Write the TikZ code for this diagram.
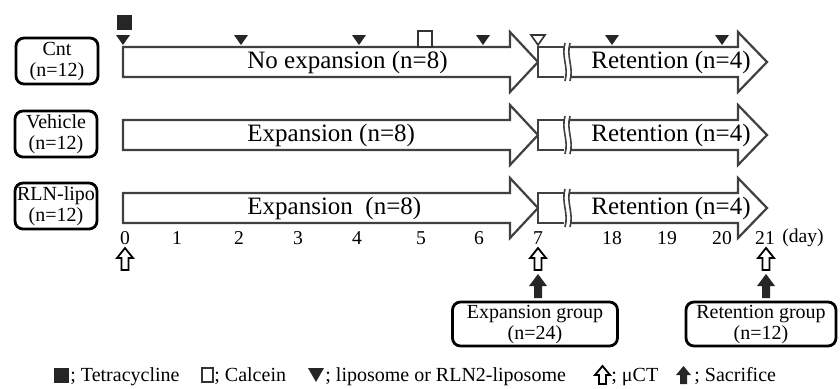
\documentclass[tikz,border=0pt]{standalone}
\usepackage{fontspec}
\setmainfont{Liberation Serif}
\usetikzlibrary{positioning}

\begin{document}
\begin{tikzpicture}[
        x = 0.5pt, y = -0.5pt,
        group/.style = {draw, line width = 1.4pt, rounded corners = 4pt, align = center,
                        inner sep = 0pt, font = \fontsize{10}{10.5}\selectfont},
        bar/.style = {draw = black!75, line width = 1.1pt, fill = white},
        brk/.style = {draw = black!75, line width = 0.8pt},
        dose/.style = {fill = black!85},
        outline/.style = {draw = black!80, line width = 0.8pt, fill = white},
        lbl/.style = {font = \fontsize{12.5}{13}\selectfont, anchor = west, inner sep = 0pt},
        tick/.style = {font = \fontsize{9.8}{10}\selectfont, inner sep = 0pt},
        legend/.style = {font = \fontsize{10}{11}\selectfont, anchor = base west, inner sep = 0pt}
    ]

    \useasboundingbox (0,0) rectangle (840,388);

    % groups
    \node[group, minimum width = 41pt, minimum height = 23pt] (cnt) at (57,61) {Cnt\\(n=12)};
    \node[group, minimum width = 41pt, minimum height = 23pt] (veh) at (56,134) {Vehicle\\(n=12)};
    \node[group, minimum width = 41pt, minimum height = 23pt] (rln) at (56,206) {RLN-lipo\\(n=12)};

    % time bars
    \foreach \c in {62, 135, 208} {
        \draw[bar] (123,\c-15) -- (510,\c-15) -- (510,\c-30) -- (538,\c) -- (510,\c+30)
                   -- (510,\c+15) -- (123,\c+15) -- cycle;
        \draw[bar] (564,\c-15) -- (538,\c-15) -- (538,\c+15) -- (564,\c+15);
        \draw[bar] (570,\c-15) -- (738,\c-15) -- (738,\c-30) -- (767,\c) -- (738,\c+30)
                   -- (738,\c+15) -- (570,\c+15);
        \draw[brk] (565,\c-19) .. controls (561,\c-5) and (569,\c+5) .. (565,\c+19);
        \draw[brk] (570,\c-19) .. controls (566,\c-5) and (574,\c+5) .. (570,\c+19);
    }

    \node[lbl] (noexp) at (247,62) {No expansion (n=8)};
    \node[lbl] (exp2) at (247,135) {Expansion (n=8)};
    \node[lbl] (exp3) at (247,208) {Expansion\ \ (n=8)};
    \node[lbl] (ret1) at (591,62) {Retention (n=4)};
    \node[lbl] (ret2) at (591,135) {Retention (n=4)};
    \node[lbl] (ret3) at (591,208) {Retention (n=4)};

    % injections on the Cnt row
    \fill[dose] (117,15) rectangle (132,30);
    \foreach \x in {123, 241, 359, 483, 612, 722}
        \fill[dose] (\x-7,35) -- (\x+7,35) -- (\x,45) -- cycle;
    \draw[outline] (531,35) -- (545,35) -- (538,45) -- cycle;
    \draw[outline] (418,31) rectangle (432,47);

    % days
    \foreach \x/\d in {125/0, 177/1, 239/2, 298/3, 357/4, 421/5, 479/6, 538/7,
                       612/18, 667/19, 722/20, 765/21}
        \node[tick] (d\d) at (\x,238) {\d};
    \node[tick] (day) at (803,238) {(day)};

    % uCT and sacrifice
    \foreach \x in {125, 538, 766}
        \draw[outline, draw = black, line width = 0.9pt] (\x,248) -- (\x+8,258) -- (\x+3.5,258)
            -- (\x+3.5,270) -- (\x-3.5,270) -- (\x-3.5,258) -- (\x-8,258) -- cycle;
    \foreach \x in {538, 766}
        \fill[dose] (\x,274) -- (\x+9,286) -- (\x+4,286) -- (\x+4,298) -- (\x-4,298)
            -- (\x-4,286) -- (\x-9,286) -- cycle;

    \node[group, minimum width = 82.5pt, minimum height = 22pt] (expg) at (535,324)
        {Expansion group\\(n=24)};
    \node[group, minimum width = 75pt, minimum height = 22pt] (retg) at (761,324)
        {Retention group\\(n=12)};

    % legend
    \fill[dose] (54,368) rectangle (69,383);
    \node[legend] (ltet) at (70,381) {; Tetracycline};
    \draw[outline] (202,368) rectangle (213,382);
    \node[legend] (lcal) at (214,381) {; Calcein};
    \fill[dose] (308,368) -- (324,368) -- (316,382) -- cycle;
    \node[legend] (llip) at (325,381) {; liposome or RLN2-liposome};
    \draw[outline, draw = black, line width = 0.9pt] (602.5,366) -- (610,375) -- (606,375)
        -- (606,384) -- (599,384) -- (599,375) -- (595,375) -- cycle;
    \node[legend] (lct) at (611,381) {; μCT};
    \fill[dose] (683.5,366) -- (691,375) -- (687,375) -- (687,384) -- (680,384)
        -- (680,375) -- (676,375) -- cycle;
    \node[legend] (lsac) at (694,381) {; Sacrifice};

\end{tikzpicture}
\end{document}
